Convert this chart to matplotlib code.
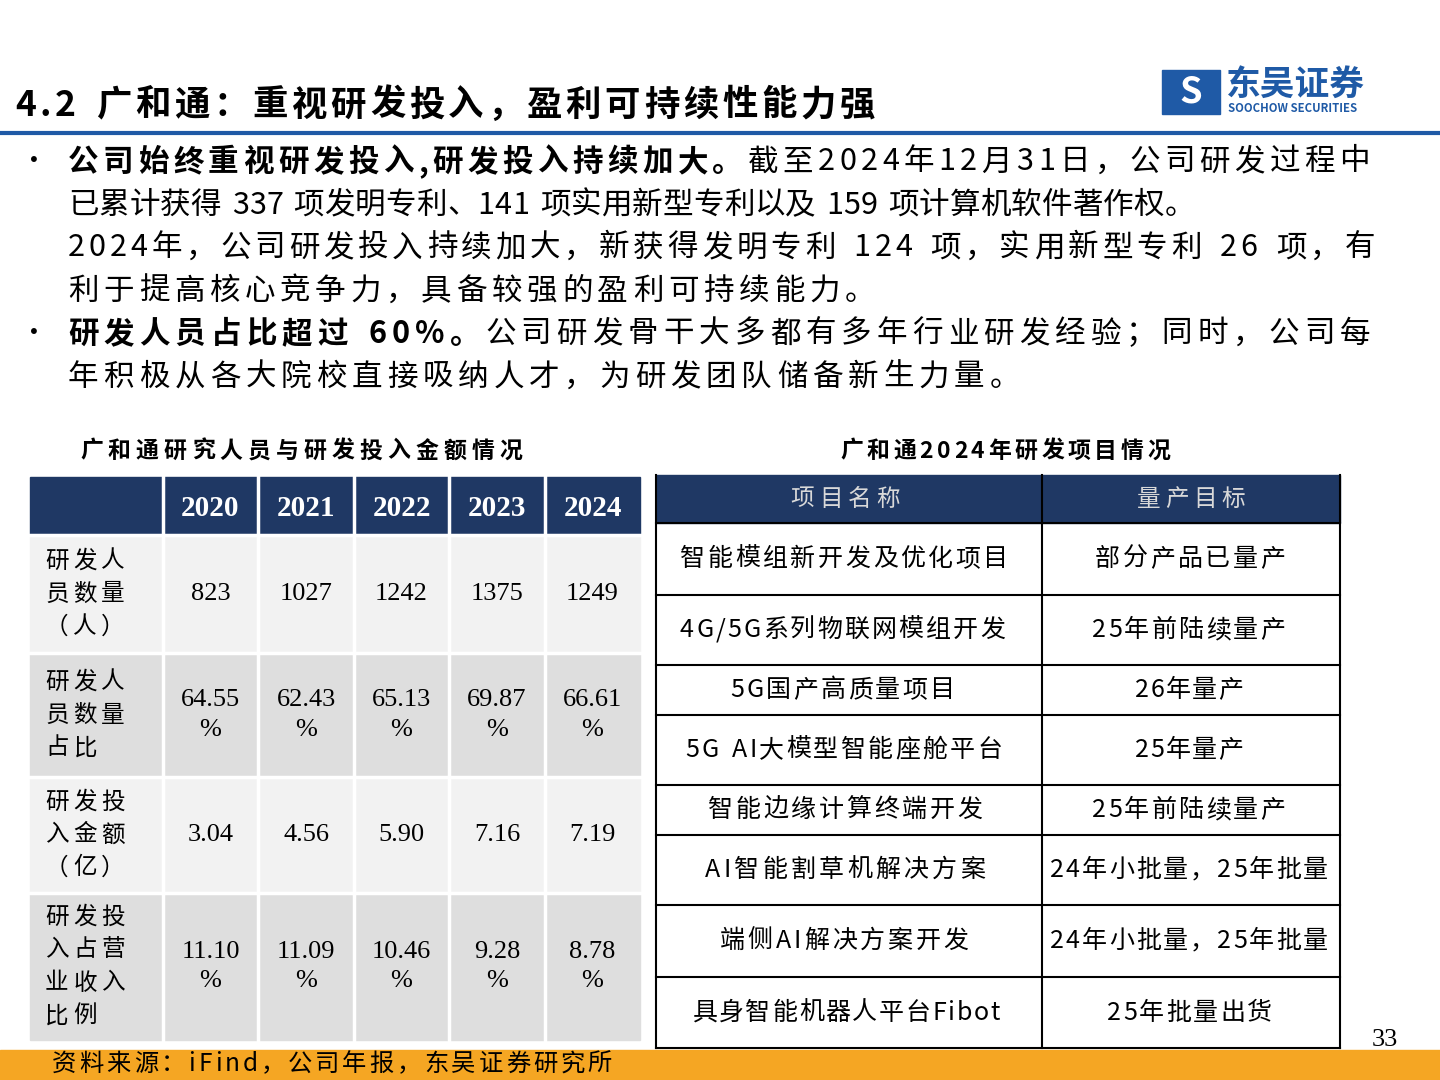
import matplotlib
matplotlib.use("Agg")
import matplotlib.pyplot as plt
from matplotlib.patches import Rectangle

FONT = "Noto Sans CJK SC"
plt.rcParams["font.family"] = FONT

NAVY = "#1F3864"
TITLE = "4.2 广和通：重视研发投入，盈利可持续性能力强"

years = ["2020", "2021", "2022", "2023", "2024"]
row_labels = ["研发人\n员数量\n（人）", "研发人\n员数量\n占比", "研发投\n入金额\n（亿）", "研发投\n入占营\n业收入\n比例"]
staff = ["823", "1027", "1242", "1375", "1249"]
staff_share = ["64.55\n%", "62.43\n%", "65.13\n%", "69.87\n%", "66.61\n%"]
rd_spend = ["3.04", "4.56", "5.90", "7.16", "7.19"]
rd_ratio = ["11.10\n%", "11.09\n%", "10.46\n%", "9.28\n%", "8.78\n%"]

projects = ["智能模组新开发及优化项目", "4G/5G系列物联网模组开发", "5G国产高质量项目",
            "5G AI大模型智能座舱平台", "智能边缘计算终端开发", "AI智能割草机解决方案",
            "端侧AI解决方案开发", "具身智能机器人平台Fibot"]
targets = ["部分产品已量产", "25年前陆续量产", "26年量产", "25年量产", "25年前陆续量产",
           "24年小批量，25年批量", "24年小批量，25年批量", "25年批量出货"]

# each line: (segments, right edge in the slide)
bullets = [
    ([("公司始终重视研发投入,研发投入持续加大。", True),
      ("截至2024年12月31日，公司研发过程中", False)], 1370, True),
    ([("已累计获得 337 项发明专利、141 项实用新型专利以及 159 项计算机软件著作权。", False)], 1195, False),
    ([("2024年，公司研发投入持续加大，新获得发明专利 124 项，实用新型专利 26 项，有", False)], 1375, False),
    ([("利于提高核心竞争力，具备较强的盈利可持续能力。", False)], 875, False),
    ([("研发人员占比超过 60%。", True),
      ("公司研发骨干大多都有多年行业研发经验；同时，公司每", False)], 1370, True),
    ([("年积极从各大院校直接吸纳人才，为研发团队储备新生力量。", False)], 1020, False),
]

fig = plt.figure(figsize=(14.4, 10.8), dpi=100)
ax = fig.add_axes([0, 0, 1, 1])
ax.set_xlim(0, 1440)
ax.set_ylim(1080, 0)
ax.axis("off")
fig.canvas.draw()
renderer = fig.canvas.get_renderer()


def char_width(ch, size, bold):
    t = ax.text(0, 0, ch if ch != " " else "a", fontsize=size, fontweight="bold" if bold else "normal")
    w = t.get_window_extent(renderer).width
    t.remove()
    return w if ch != " " else w * 0.6


def spaced_text(segments, x0, x1, y, size, max_gap=None, **kw):
    # draw characters one by one, spread to fill x0..x1
    chars = [(c, b) for s, b in segments for c in s]
    widths = [char_width(c, size, b) for c, b in chars]
    gap = (x1 - x0 - sum(widths)) / max(len(chars) - 1, 1)
    if max_gap is not None:
        gap = min(gap, max_gap)
    x = x0
    for (c, b), w in zip(chars, widths):
        if c != " ":
            ax.text(x, y, c, fontsize=size, va="center",
                    fontweight="bold" if b else "normal", **kw)
        x += w + gap


# title + rule
spaced_text([(TITLE, True)], 15, 875, 105, 25.5)
ax.plot([0, 1440], [133, 133], color="#1F5AA6", lw=3)

# logo
ax.add_patch(Rectangle((1162, 70), 58, 44, color="#1F5AA6"))
ax.text(1191, 92, "S", fontsize=26, color="white", ha="center", va="center", fontweight="bold")
ax.text(1226, 84, "东吴证券", fontsize=25, color="#1F5AA6", va="center", fontweight="bold")
ax.text(1228, 109, "SOOCHOW SECURITIES", fontsize=8.2, color="#1F5AA6", va="center", fontweight="bold")

# bullet text
for i, (segs, x1, has_bullet) in enumerate(bullets):
    y = 162 + i * 43
    if has_bullet:
        ax.text(20, y, "•", fontsize=20, va="center")
    spaced_text(segs, 68, x1, y, 22)

# left table
spaced_text([("广和通研究人员与研发投入金额情况", True)], 80, 522, 451, 16.5)
col_x = [30, 163, 258, 354, 449, 545, 640]
row_y = [477, 535, 653, 777, 893, 1040]
ax.add_patch(Rectangle((col_x[0], row_y[0]), col_x[-1] - col_x[0], row_y[1] - row_y[0], color=NAVY))
for j, yr in enumerate(years):
    ax.text((col_x[j + 1] + col_x[j + 2]) / 2, (row_y[0] + row_y[1]) / 2 + 2, yr,
            fontsize=21, fontweight="bold", color="white", ha="center", va="center", family="Liberation Serif")
rows = [staff, staff_share, rd_spend, rd_ratio]
for r, vals in enumerate(rows):
    y0, y1 = row_y[r + 1], row_y[r + 2]
    ax.add_patch(Rectangle((col_x[0], y0), col_x[-1] - col_x[0], y1 - y0,
                           color="#F2F2F2" if r % 2 == 0 else "#DEDEDE"))
    lines = row_labels[r].split("\n")
    n = len(lines)
    for k, ln in enumerate(lines):
        yy = (y0 + y1) / 2 + (k - (n - 1) / 2) * 33
        spaced_text([(ln, False)], 45, 125, yy, 17, max_gap=5)
    for j, v in enumerate(vals):
        ax.text((col_x[j + 1] + col_x[j + 2]) / 2, (y0 + y1) / 2, v, fontsize=19,
                ha="center", va="center", linespacing=1.45, family="Liberation Serif")
for x in col_x[1:-1]:
    ax.plot([x, x], [row_y[0], row_y[-1]], color="white", lw=2.5)
for y in row_y[1:-1]:
    ax.plot([col_x[0], col_x[-1]], [y, y], color="white", lw=2.5)

# right table
spaced_text([("广和通2024年研发项目情况", True)], 840, 1170, 451, 16.5)
rx = [656, 1042, 1340]
ry = [475, 523, 595, 665, 715, 785, 835, 905, 977, 1048]
ax.add_patch(Rectangle((rx[0], ry[0]), rx[-1] - rx[0], ry[1] - ry[0], color=NAVY))
hy = (ry[0] + ry[1]) / 2
spaced_text([("项目名称", False)], 790, 900, hy, 17, color="#D9D9D9")
spaced_text([("量产目标", False)], 1137, 1245, hy, 17, color="#D9D9D9")
proj_x = [(680, 1008), (680, 1005), (730, 955), (685, 1002), (708, 982), (705, 985), (720, 968), (692, 1000)]
targ_x = [(1095, 1285), (1092, 1285), (1135, 1243), (1135, 1243), (1092, 1285), (1050, 1328), (1050, 1328), (1107, 1272)]
for i, (p, t) in enumerate(zip(projects, targets)):
    yc = (ry[i + 1] + ry[i + 2]) / 2
    spaced_text([(p, False)], proj_x[i][0], proj_x[i][1], yc, 18)
    spaced_text([(t, False)], targ_x[i][0], targ_x[i][1], yc, 18)
for y in ry[1:]:
    ax.plot([rx[0], rx[-1]], [y, y], color="black", lw=1.5)
for x in rx:
    ax.plot([x, x], [ry[0], ry[-1]], color="black", lw=1.5)

# footer
ax.add_patch(Rectangle((0, 1050), 1440, 30, color="#F5A623"))
spaced_text([("资料来源：iFind，公司年报，东吴证券研究所", False)], 52, 612, 1064, 17.5)
ax.text(1385, 1040, "33", fontsize=19, ha="center", va="center", family="Liberation Serif")

fig.savefig("out.png", dpi=100)
